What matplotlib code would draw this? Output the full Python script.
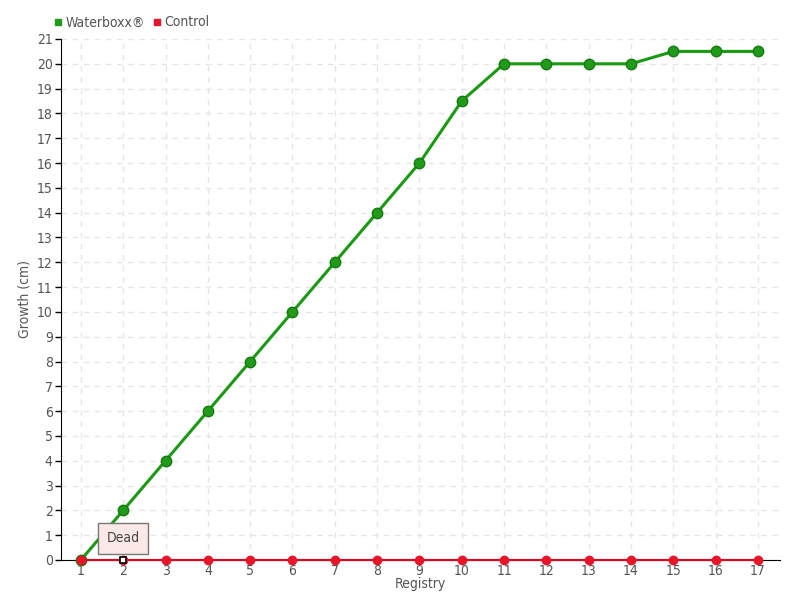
import matplotlib
matplotlib.use("Agg")
import matplotlib.pyplot as plt
from matplotlib.lines import Line2D

registry = list(range(1, 18))
waterboxx = [0, 2, 4, 6, 8, 10, 12, 14, 16, 18.5, 20, 20, 20, 20, 20.5, 20.5, 20.5]
control = [0] * 17
y_ticks = list(range(0, 22))
tooltip_text = "Dead"
tooltip_index = 1

plt.rcParams['font.family'] = ['DejaVu Sans']
plt.rcParams['font.stretch'] = 'condensed'
txt = '#555555'

fig = plt.figure(figsize=(8, 6), dpi=100)
ax = fig.add_axes([0.07625, 0.0667, 0.89875, 0.8683])

ax.set_xlim(0.53, 17.52)
ax.set_ylim(0, 21)
ax.set_xticks(registry)
ax.set_yticks(y_ticks)
ax.grid(True, color='#e6e6e6', linestyle=(0, (4, 4)), linewidth=1)
ax.set_axisbelow(True)
for s in ['top', 'right']:
    ax.spines[s].set_visible(False)
ax.spines['left'].set_color('black')
ax.spines['bottom'].set_color('black')
ax.tick_params(axis='y', labelsize=10, labelcolor=txt, length=4, width=1, color='black', pad=2)
ax.tick_params(axis='x', labelsize=10, labelcolor=txt, length=3, width=1, color='#aaaaaa', pad=0)

ax.plot(registry, waterboxx, color='#1a9a12', linewidth=2.2, marker='o',
        markersize=7.5, markerfacecolor='#1f9a19', markeredgecolor='#167a10',
        markeredgewidth=1, zorder=3, clip_on=False)
ax.plot(registry, control, color='#e8001c', linewidth=1.5, marker='o',
        markersize=6, markerfacecolor='#e8152a', markeredgecolor='#e8152a',
        zorder=4, clip_on=False)
# hovered point
ax.plot([registry[tooltip_index]], [control[tooltip_index]], marker='s', markersize=5,
        markerfacecolor='white', markeredgecolor='black', markeredgewidth=1.2,
        zorder=6, clip_on=False, linestyle='none')

ax.annotate(tooltip_text, xy=(registry[tooltip_index], control[tooltip_index]),
            xytext=(0, 15.5), textcoords='offset points', ha='center', va='center',
            fontsize=10, color='#444444', zorder=7,
            bbox=dict(boxstyle='square,pad=0.6', facecolor='#fde8e8',
                      edgecolor='#777777', linewidth=1))

ax.set_xlabel('Registry', color=txt, fontsize=10, labelpad=-1)
ax.set_ylabel('Growth (cm)', color=txt, fontsize=10, labelpad=4)

handles = [Line2D([], [], marker='s', color='none', markerfacecolor='#1f9a19',
                  markeredgecolor='#1f9a19', markersize=5, label='Waterboxx®'),
           Line2D([], [], marker='s', color='none', markerfacecolor='#e8152a',
                  markeredgecolor='#e8152a', markersize=5, label='Control')]
leg = fig.legend(handles=handles, loc='upper left', bbox_to_anchor=(0.052, 0.995),
                 ncol=2, frameon=False, fontsize=10, handlelength=0.6,
                 handletextpad=0.2, columnspacing=0.6)
for t in leg.get_texts():
    t.set_color(txt)

fig.savefig('out.png', dpi=100)
